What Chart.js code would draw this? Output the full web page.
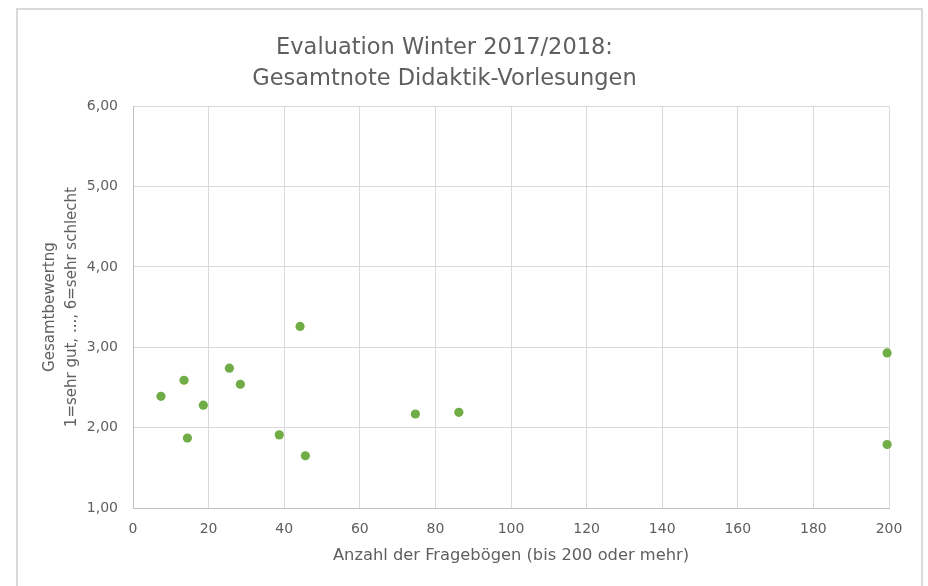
<!DOCTYPE html>
<html>
<head>
<meta charset="utf-8">
<script src="https://cdn.jsdelivr.net/npm/chart.js@4/dist/chart.umd.min.js"></script>
<style>
  html, body { margin: 0; padding: 0; background: #ffffff; overflow: hidden; }
  #wrap { position: relative; width: 928px; height: 586px; }
  #frame { position: absolute; left: 16px; top: 8px; width: 907px; height: 700px; box-sizing: border-box; border: 2px solid #d9d9d9; }
  #c { position: absolute; left: 0; top: 0; }
</style>
</head>
<body>
<div id="wrap">
  <div id="frame"></div>
  <canvas id="c" width="928" height="586"></canvas>
</div>
<script>
const titleLines = ['Evaluation Winter 2017/2018:', 'Gesamtnote Didaktik-Vorlesungen'];
const xAxisTitle = 'Anzahl der Fragebögen (bis 200 oder mehr)';
const yAxisTitle = ['Gesamtbewertng', '1=sehr gut, ..., 6=sehr schlecht'];
const questionnaires = [7.4, 13.5, 14.4, 18.6, 25.5, 28.4, 38.7, 44.2, 45.6, 74.7, 86.2, 199.5, 199.5];
const grades = [2.39, 2.59, 1.87, 2.28, 2.74, 2.54, 1.91, 3.26, 1.65, 2.17, 2.19, 2.93, 1.79];

const points = questionnaires.map((x, i) => ({ x: x, y: grades[i] }));
const FONT = '"DejaVu Sans", sans-serif';
const TXT = '#5f5f5f';

new Chart(document.getElementById('c'), {
  type: 'scatter',
  data: {
    datasets: [{
      label: 'Gesamtnote',
      data: points,
      backgroundColor: '#70ad47',
      borderWidth: 0,
      pointRadius: 4.6,
      pointHoverRadius: 4.6,
      clip: false
    }]
  },
  options: {
    responsive: false,
    animation: false,
    layout: { padding: { left: 0, right: 39, top: 0, bottom: 0 } },
    plugins: {
      legend: { display: false },
      tooltip: { enabled: false },
      title: {
        display: true,
        text: titleLines,
        color: TXT,
        font: { family: FONT, size: 22.5, weight: 'normal', lineHeight: 1.36 },
        padding: { top: 33, bottom: 12 }
      }
    },
    scales: {
      x: {
        type: 'linear',
        min: 0, max: 200,
        afterFit: s => { s.height = 78; },
        border: { display: true, color: '#bfbfbf', width: 1 },
        grid: { color: '#d9d9d9', lineWidth: 1, drawTicks: false },
        ticks: { stepSize: 20, color: TXT, padding: 13, font: { family: FONT, size: 14 } },
        title: {
          display: true, text: xAxisTitle, color: TXT,
          font: { family: FONT, size: 16.3, lineHeight: 1.3 },
          padding: { top: 0, bottom: 20 }
        }
      },
      y: {
        type: 'linear',
        min: 1, max: 6,
        afterFit: s => { s.width = 133; },
        border: { display: true, color: '#bfbfbf', width: 1 },
        grid: { color: '#d9d9d9', lineWidth: 1, drawTicks: false },
        ticks: {
          stepSize: 1, color: TXT, padding: 15,
          font: { family: FONT, size: 14 },
          callback: v => v.toFixed(2).replace('.', ',')
        },
        title: {
          display: true, text: yAxisTitle, color: TXT,
          font: { family: FONT, size: 15, lineHeight: 1.45 },
          padding: { top: 39, bottom: 0 }
        }
      }
    }
  }
});
</script>
</body>
</html>
